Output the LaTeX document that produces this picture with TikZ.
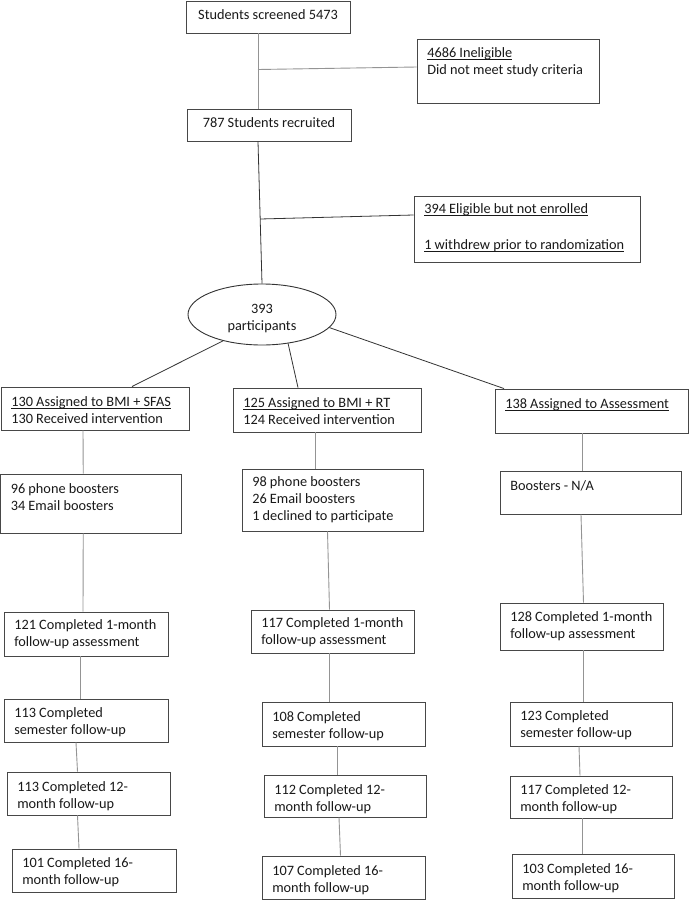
\documentclass[tikz,border=0pt]{standalone}
\usepackage{fontspec}
\setmainfont{Carlito}
\usetikzlibrary{shapes.geometric,calc}
\newcommand\fsz{\fontsize{14.3}{17}\selectfont}
\newcommand\uln[1]{\leavevmode\setbox0\hbox{#1}\rlap{\rule[-2pt]{\wd0}{0.7pt}}\box0}
\tikzset{
  bx/.style={draw=black!72, line width=0.9pt, rectangle, inner sep=0pt},
  ellbox/.style={draw=black!80, line width=0.9pt, ellipse, inner sep=0pt},
  tl/.style={inner sep=0pt, align=left, anchor=west, font=\fsz, text=black!90},
  tc/.style={inner sep=0pt, align=center, anchor=center, font=\fsz, text=black!90},
  cn/.style={draw=black!42, line width=0.9pt},
  cd/.style={draw=black!80, line width=0.8pt},
}
\begin{document}
\begin{tikzpicture}[x=1pt,y=-1pt]
\useasboundingbox[fill=white] (0,0) rectangle (689,900);

% top part
\node[bx, minimum width=164pt, minimum height=32pt] (scr) at (268,17) {};
\node[tc] (scrt) at ([yshift=2pt]scr.center) {Students screened 5473};
\node[bx, minimum width=182pt, minimum height=64pt] (inel) at (508,71) {};
\node[tl] (inelt) at ([xshift=10.5pt,yshift=9pt]inel.west) {\uln{4686 Ineligible}\\Did not meet study criteria};
\node[bx, minimum width=164pt, minimum height=32pt] (rec) at (269,125) {};
\node[tc] (rect) at ([yshift=2.3pt]rec.center) {787 Students recruited};
\node[bx, minimum width=226pt, minimum height=66pt] (elig) at (527,229) {};
\node[tl] (eligt) at ([xshift=10.5pt,yshift=1pt]elig.west) {\uln{394 Eligible but not enrolled}\\[19pt]\uln{1 withdrew prior to randomization}};
\node[ellbox, minimum width=148pt, minimum height=61pt] (ell) at (262,314.5) {};
\node[tc] (ellt) at ([yshift=-3.8pt]ell.center) {393\\participants};

% arm boxes
\node[bx, minimum width=188pt, minimum height=43pt] (a1) at (95,408.5) {};
\node[tl] (a1t) at ([xshift=10.5pt,yshift=-2pt]a1.west) {\uln{130 Assigned to BMI + SFAS}\\130 Received intervention};
\node[bx, minimum width=188pt, minimum height=44pt] (b1) at (327,410) {};
\node[tl] (b1t) at ([xshift=10.5pt,yshift=-1pt]b1.west) {\uln{125 Assigned to BMI + RT}\\124 Received intervention};
\node[bx, minimum width=193pt, minimum height=44pt] (c1) at (591.5,411) {};
\node[tl] (c1t) at ([xshift=10.5pt,yshift=6pt]c1.west) {\uln{138 Assigned to Assessment}};

\node[bx, minimum width=180.5pt, minimum height=59pt] (a2) at (90.75,503.5) {};
\node[tl] (a2t) at ([xshift=10.5pt,yshift=6pt]a2.west) {96 phone boosters\\34 Email boosters};
\node[bx, minimum width=181pt, minimum height=62pt] (b2) at (332.5,500) {};
\node[tl] (b2t) at ([xshift=10.5pt,yshift=0pt]b2.west) {98 phone boosters\\26 Email boosters\\1 declined to participate};
\node[bx, minimum width=181pt, minimum height=43pt] (c2) at (590.5,492.5) {};
\node[tl] (c2t) at ([xshift=10.5pt,yshift=6.5pt]c2.west) {Boosters - N/A};

\node[bx, minimum width=164pt, minimum height=44pt] (a3) at (86,634) {};
\node[tl] (a3t) at ([xshift=10.5pt,yshift=0pt]a3.west) {121 Completed 1-month\\follow-up assessment};
\node[bx, minimum width=163pt, minimum height=43pt] (b3) at (332.5,631.5) {};
\node[tl] (b3t) at ([xshift=10.5pt,yshift=-1pt]b3.west) {117 Completed 1-month\\follow-up assessment};
\node[bx, minimum width=163pt, minimum height=47pt] (c3) at (581.5,626.5) {};
\node[tl] (c3t) at ([xshift=10.5pt,yshift=0pt]c3.west) {128 Completed 1-month\\follow-up assessment};

\node[bx, minimum width=164pt, minimum height=43pt] (a4) at (86,720.5) {};
\node[tl] (a4t) at ([xshift=10.5pt,yshift=-2pt]a4.west) {113 Completed\\semester follow-up};
\node[bx, minimum width=163pt, minimum height=44pt] (b4) at (343.5,724) {};
\node[tl] (b4t) at ([xshift=10.5pt,yshift=-2pt]b4.west) {108 Completed\\semester follow-up};
\node[bx, minimum width=162pt, minimum height=44pt] (c4) at (591,724) {};
\node[tl] (c4t) at ([xshift=10.5pt,yshift=-1.5pt]c4.west) {123 Completed\\semester follow-up};

\node[bx, minimum width=163pt, minimum height=43pt] (a5) at (88.5,793.5) {};
\node[tl] (a5t) at ([xshift=10.5pt,yshift=-2.5pt]a5.west) {113 Completed 12-\\month follow-up};
\node[bx, minimum width=162pt, minimum height=42pt] (b5) at (345,796) {};
\node[tl] (b5t) at ([xshift=10.5pt,yshift=-3pt]b5.west) {112 Completed 12-\\month follow-up};
\node[bx, minimum width=162pt, minimum height=42pt] (c5) at (591,797) {};
\node[tl] (c5t) at ([xshift=10.5pt,yshift=-2pt]c5.west) {117 Completed 12-\\month follow-up};

\node[bx, minimum width=164pt, minimum height=43pt] (a6) at (94,870.5) {};
\node[tl] (a6t) at ([xshift=10.5pt,yshift=-1.5pt]a6.west) {101 Completed 16-\\month follow-up};
\node[bx, minimum width=163pt, minimum height=43pt] (b6) at (343.5,877.5) {};
\node[tl] (b6t) at ([xshift=10.5pt,yshift=-2.5pt]b6.west) {107 Completed 16-\\month follow-up};
\node[bx, minimum width=162pt, minimum height=44pt] (c6) at (593,876) {};
\node[tl] (c6t) at ([xshift=10.5pt,yshift=-2pt]c6.west) {103 Completed 16-\\month follow-up};

% connectors, top
\coordinate (j1) at (258,69.5);
\coordinate (j2) at (260.2,219);
\draw[cn] ([xshift=-10pt]scr.south) -- ([xshift=-11pt]rec.north);
\draw[cn] (j1) -- ([yshift=4pt]inel.west);
\draw[cd] ([xshift=-11pt]rec.south) -- (ell.north);
\draw[cd] (j2) -- ([yshift=14pt]elig.west);

% ellipse to arms
\draw[cd] (ell.214) -- ([xshift=37pt]a1.north);
\draw[cd] (ell.312) -- ([xshift=-29pt]b1.north);
\draw[cd] (ell.349) -- ([xshift=-87.5pt]c1.north);

% columns
\draw[cn] ([xshift=-12pt]a1.south) -- ([xshift=-7.5pt]a2.north);
\draw[cn] ([xshift=-7.5pt]a2.south) -- ([xshift=-3pt]a3.north);
\draw[cn] ([xshift=-6pt]a3.south) -- ([xshift=-6pt]a4.north);
\draw[cn] ([xshift=-10pt]a4.south) -- ([xshift=-11pt]a5.north);
\draw[cn] ([xshift=-11pt]a5.south) -- ([xshift=-15pt]a6.north);

\draw[cn] ([xshift=-12pt]b1.south) -- ([xshift=-17.5pt]b2.north);
\draw[cn] ([xshift=-5pt]b2.south) -- ([xshift=-3pt]b3.north);
\draw[cn] ([xshift=-3pt]b3.south) -- ([xshift=-14pt]b4.north);
\draw[cn] ([xshift=-6.5pt]b4.south) -- ([xshift=-8pt]b5.north);
\draw[cn] ([xshift=-6pt]b5.south) -- ([xshift=-3pt]b6.north);

\draw[cn] ([xshift=-9.5pt]c1.south) -- ([xshift=-8.5pt]c2.north);
\draw[cn] ([xshift=-9.5pt]c2.south) -- ([xshift=2pt]c3.north);
\draw[cn] ([xshift=2pt]c3.south) -- ([xshift=-7.5pt]c4.north);
\draw[cn] ([xshift=-12pt]c4.south) -- ([xshift=-11pt]c5.north);
\draw[cn] ([xshift=-9pt]c5.south) -- ([xshift=-11pt]c6.north);
\end{tikzpicture}
\end{document}
